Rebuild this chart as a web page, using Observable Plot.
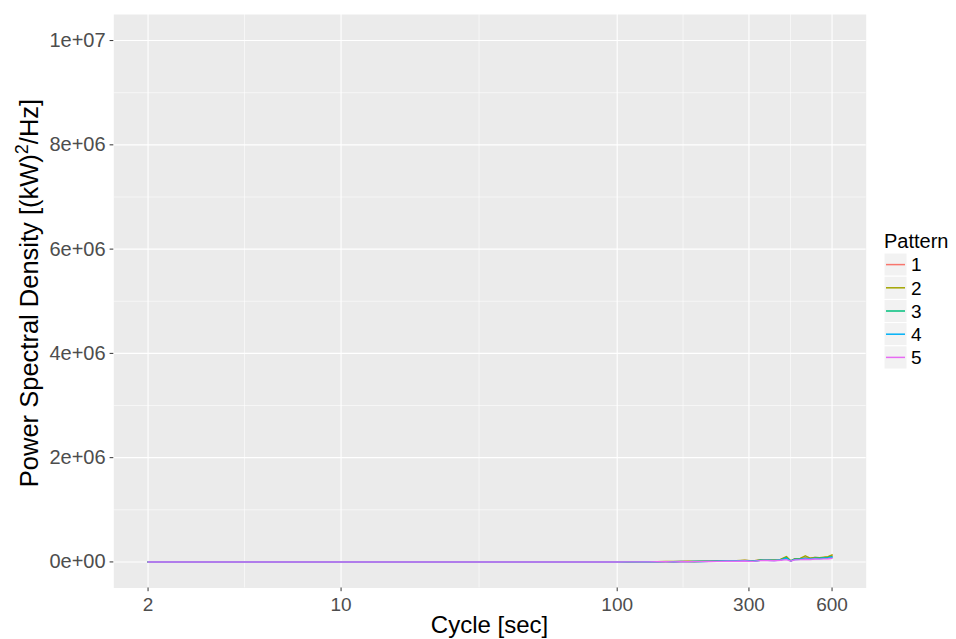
<!DOCTYPE html>
<html>
<head>
<meta charset="utf-8">
<script src="https://cdn.jsdelivr.net/npm/d3@7"></script>
<script src="https://cdn.jsdelivr.net/npm/@observablehq/plot@0.6"></script>
<style>
  body { margin: 0; background: #fff; }
  #chart { position: relative; width: 956px; height: 639px; }
</style>
</head>
<body>
<div id="chart"></div>
<script>
// ---- data ----
const cycles = [2, 3, 4, 5, 7, 10, 15, 20, 30, 50, 70, 100,
  110, 120, 130, 140, 150, 160, 170, 180, 190, 200,
  215, 230, 250, 270, 290,
  310, 330, 350, 370, 390,
  410, 425, 440, 460, 480, 500,
  520, 540, 560, 580, 600];

const pattern1 = [0,0,0,0,0,0,0,0,0,0,0,0,
  2e3,4e3,3e3,5e3,6e3,4e3,8e3,7e3,9e3,10e3,
  14e3,18e3,24e3,20e3,28e3,
  18e3,36e3,38e3,34e3,42e3,
  92e3,22e3,58e3,62e3,78e3,70e3,
  84e3,80e3,86e3,96e3,122e3];
const pattern2 = [0,0,0,0,0,0,0,0,0,0,0,0,
  3e3,5e3,6e3,4e3,8e3,7e3,10e3,12e3,9e3,14e3,
  16e3,22e3,26e3,24e3,32e3,
  20e3,40e3,42e3,38e3,48e3,
  104e3,18e3,62e3,66e3,118e3,74e3,
  88e3,82e3,92e3,100e3,136e3];
const pattern3 = [0,0,0,0,0,0,0,0,0,0,0,0,
  1e3,3e3,2e3,4e3,5e3,3e3,6e3,6e3,8e3,9e3,
  12e3,15e3,20e3,18e3,25e3,
  15e3,32e3,34e3,30e3,38e3,
  80e3,20e3,52e3,56e3,70e3,62e3,
  74e3,70e3,78e3,84e3,100e3];
const pattern4 = [0,0,0,0,0,0,0,0,0,0,0,0,
  2e3,2e3,4e3,3e3,5e3,4e3,7e3,5e3,8e3,8e3,
  11e3,14e3,18e3,17e3,22e3,
  14e3,30e3,32e3,28e3,36e3,
  70e3,18e3,48e3,52e3,62e3,58e3,
  66e3,64e3,70e3,76e3,90e3];
const pattern5 = [0,0,0,0,0,0,0,0,0,0,0,0,
  1e3,2e3,1e3,3e3,3e3,2e3,4e3,4e3,5e3,6e3,
  9e3,11e3,15e3,14e3,18e3,
  10e3,26e3,28e3,24e3,32e3,
  45e3,14e3,40e3,44e3,52e3,48e3,
  56e3,54e3,58e3,62e3,70e3];

const patterns = ["1", "2", "3", "4", "5"];
const patternColors = ["#F8766D", "#A3A500", "#00BF7D", "#00B0F6", "#E76BF3"];

const xTicks = [2, 10, 100, 300, 600];
const xTickLabels = ["2", "10", "100", "300", "600"];
const xMinor = [4.47, 31.6, 173.2, 424.3];
const yTicks = [0, 2e6, 4e6, 6e6, 8e6, 1e7];
const yTickLabels = ["0e+00", "2e+06", "4e+06", "6e+06", "8e+06", "1e+07"];
const yMinor = [1e6, 3e6, 5e6, 7e6, 9e6];

const xTitle = "Cycle [sec]";
const legendTitle = "Pattern";

// ---- build tables ----
const seriesValues = [pattern1, pattern2, pattern3, pattern4, pattern5];
const seriesRows = seriesValues.map((vals, s) =>
  vals.map((v, i) => ({cycle: cycles[i], psd: v, pattern: patterns[s]})));
const xTickRows = xTicks.map((v, i) => ({v, label: xTickLabels[i]}));

const FONT = "'Liberation Sans', Arial, sans-serif";
const yLabelOf = d => yTickLabels[yTicks.indexOf(+d)];

const plot = Plot.plot({
  width: 956,
  height: 639,
  marginLeft: 113.3,
  marginRight: 90.3,
  marginTop: 14,
  marginBottom: 51.5,
  style: {fontFamily: FONT, background: "white", overflow: "visible"},
  x: {type: "log", domain: [1.503, 797.6]},
  y: {domain: [-5e5, 1.05e7]},
  color: {domain: patterns, range: patternColors},
  marks: [
    Plot.frame({fill: "#EBEBEB", stroke: null}),
    Plot.ruleX(xMinor, {stroke: "white", strokeWidth: 0.55}),
    Plot.ruleY(yMinor, {stroke: "white", strokeWidth: 0.55}),
    Plot.ruleX(xTicks, {stroke: "white", strokeWidth: 1.1}),
    Plot.ruleY(yTicks, {stroke: "white", strokeWidth: 1.1}),
    ...seriesRows.map(r => Plot.line(r, {x: "cycle", y: "psd", stroke: "pattern", strokeWidth: 1.4})),
    Plot.axisX({ticks: xTicks, tickFormat: null, text: null, tickSize: 3.7, stroke: "#333333", label: null}),
    Plot.text(xTickRows, {x: "v", text: "label", frameAnchor: "bottom", lineAnchor: "top", dy: 9.5,
      fontSize: 19, fill: "#4D4D4D"}),
    Plot.axisY({ticks: yTicks, tickFormat: yLabelOf, tickSize: 3.7, tickPadding: 4.5,
      fontSize: 20, color: "#4D4D4D", label: null})
  ]
});

document.getElementById("chart").appendChild(plot);

const svg = d3.select(plot);
svg.selectAll("[aria-label='y-axis tick'] path").attr("stroke", "#333333");

// axis titles
svg.append("text")
  .attr("x", 489.5).attr("y", 633)
  .attr("text-anchor", "middle")
  .attr("font-family", FONT).attr("font-size", 24).attr("fill", "black")
  .text(xTitle);

const yt = svg.append("text")
  .attr("transform", "translate(38,293) rotate(-90)")
  .attr("text-anchor", "middle")
  .attr("font-family", FONT).attr("font-size", 25.5).attr("fill", "black");
yt.append("tspan").text("Power Spectral Density [(kW)");
yt.append("tspan").attr("font-size", 18).attr("dy", -10).text("2");
yt.append("tspan").attr("dy", 10).text("/Hz]");

// legend
const lg = svg.append("g").attr("font-family", FONT).attr("text-anchor", "start");
lg.append("text").attr("x", 884).attr("y", 248).attr("font-size", 20).attr("fill", "black")
  .attr("text-anchor", "start").text(legendTitle);
patterns.forEach((p, i) => {
  const y0 = 253 + i * 23.2;
  lg.append("rect").attr("x", 884).attr("y", y0).attr("width", 23).attr("height", 23.2)
    .attr("fill", "#F2F2F2").attr("stroke", "white").attr("stroke-width", 1);
  lg.append("line").attr("x1", 886).attr("x2", 905).attr("y1", y0 + 11.6).attr("y2", y0 + 11.6)
    .attr("stroke", patternColors[i]).attr("stroke-width", 1.5);
  lg.append("text").attr("x", 911).attr("y", y0 + 11.6).attr("dy", "0.36em")
    .attr("text-anchor", "start")
    .attr("font-size", 19).attr("fill", "black").text(p);
});
</script>
</body>
</html>
